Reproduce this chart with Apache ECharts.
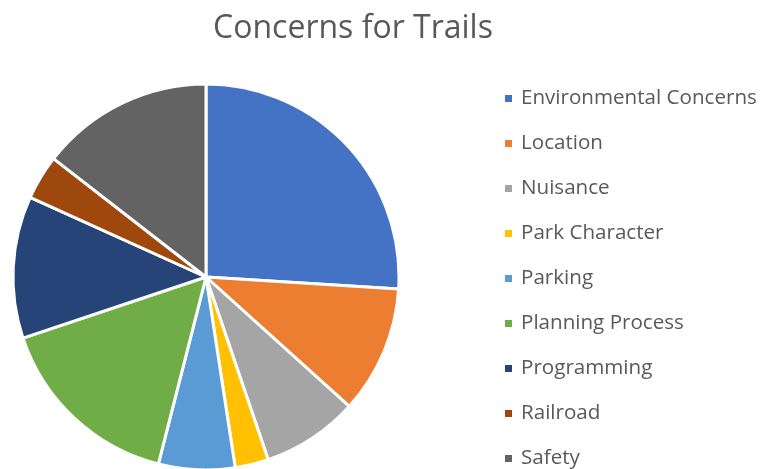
<!DOCTYPE html>
<html>
<head>
<meta charset="utf-8">
<script src="https://cdn.jsdelivr.net/npm/echarts@6/dist/echarts.min.js"></script>
<style>
  html, body { margin: 0; padding: 0; background: #fff; }
  #chart { width: 760px; height: 469px; }
</style>
</head>
<body>
<div id="chart"></div>
<script>
  // categories and their shares (%)
  var categories = ['Environmental Concerns', 'Location', 'Nuisance', 'Park Character', 'Parking',
                    'Planning Process', 'Programming', 'Railroad', 'Safety'];
  var values = [26.0, 10.7, 8.1, 2.8, 6.4, 15.9, 11.9, 3.75, 14.5];
  var colors = ['#4472C4', '#ED7D31', '#A5A5A5', '#FFC000', '#5B9BD5',
                '#70AD47', '#264478', '#9E480E', '#636363'];

  var myChart = echarts.init(document.getElementById('chart'));

  myChart.setOption({
    animation: false,
    color: colors,
    title: {
      text: 'Concerns for Trails',
      left: 353,
      textAlign: 'center',
      top: 13,
      padding: 0,
      textStyle: {
        fontFamily: 'Open Sans',
        fontSize: 32,
        fontWeight: 'normal',
        color: '#595959'
      }
    },
    legend: {
      type: 'plain',
      orient: 'vertical',
      left: 503,
      top: 88,
      height: 420,
      padding: 0,
      itemWidth: 9,
      itemHeight: 9,
      itemGap: 24,
      icon: 'rect',
      data: categories,
      textStyle: {
        fontFamily: 'Open Sans',
        fontSize: 20.6,
        lineHeight: 20,
        color: '#595959',
        padding: [0, 0, 0, 3]
      }
    },
    series: [
      {
        type: 'pie',
        center: [206, 277],
        radius: 193,
        startAngle: 90,
        clockwise: true,
        label: { show: false },
        labelLine: { show: false },
        itemStyle: {
          borderColor: '#ffffff',
          borderWidth: 3
        },
        data: categories.map(function (c, i) {
          return { name: c, value: values[i] };
        })
      }
    ]
  });
</script>
</body>
</html>
